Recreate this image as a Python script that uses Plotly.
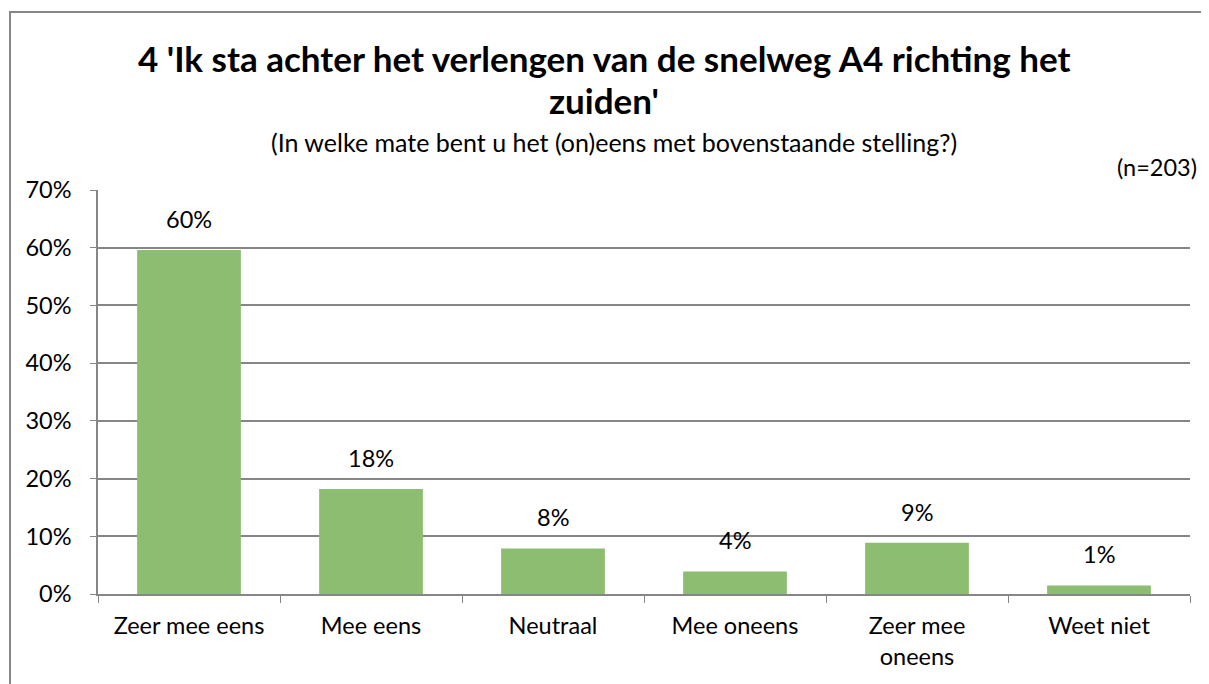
import plotly.graph_objects as go

# data (n=203)
categories = ["Zeer mee eens", "Mee eens", "Neutraal", "Mee oneens", "Zeer mee<br>oneens", "Weet niet"]
shares = [0.596, 0.182, 0.079, 0.039, 0.089, 0.0148]
y_ticks = [0, 0.1, 0.2, 0.3, 0.4, 0.5, 0.6, 0.7]

FONT = "Lato"
GREEN = "#8dbd70"
GRID = "#868686"
TXT = 23.5

fig = go.Figure()

fig.add_trace(
    go.Bar(
        x=categories,
        y=shares,
        marker=dict(color=GREEN, line=dict(width=0)),
        hoverinfo="skip",
    )
)

# value labels sit a bit higher above the bars than plotly's "outside" text
for cat, val in zip(categories, shares):
    fig.add_annotation(
        x=cat, y=val, text=f"{val:.0%}", showarrow=False,
        xanchor="center", yanchor="bottom", yshift=15,
        font=dict(family=FONT, size=TXT, color="#000000"),
    )

# page body has an 8px margin, so the figure is shifted by 8px
fig.update_layout(
    width=1201,
    height=676,
    plot_bgcolor="#ffffff",
    paper_bgcolor="#ffffff",
    font=dict(family=FONT, color="#000000"),
    margin=dict(l=90, r=19, t=182, b=90),
    showlegend=False,
    bargap=0.43,
    xaxis=dict(
        type="category",
        showline=True,
        linecolor=GRID,
        linewidth=1.5,
        ticks="outside",
        tickson="boundaries",
        ticklen=7,
        tickcolor=GRID,
        ticklabelstandoff=10,
        tickfont=dict(family=FONT, size=TXT, color="#000000"),
        showgrid=False,
    ),
    yaxis=dict(
        range=[0, 0.7],
        tickvals=y_ticks,
        tickformat=".0%",
        showline=True,
        linecolor=GRID,
        linewidth=1.5,
        ticks="outside",
        ticklen=6,
        tickcolor=GRID,
        ticklabelstandoff=14,
        showgrid=True,
        gridcolor=GRID,
        gridwidth=1.5,
        zeroline=False,
        tickfont=dict(family=FONT, size=TXT, color="#000000"),
    ),
)

# frame around the chart (only left and top visible in the crop)
fig.add_shape(
    type="rect", xref="paper", yref="paper",
    x0=-88 / 1092, x1=1.1, y0=-0.3, y1=1 + 178 / 404,
    line=dict(color=GRID, width=2), layer="below",
)

title_lines = ["4 'Ik sta achter het verlengen van de snelweg A4 richting het", "zuiden'"]
for i, line in enumerate(title_lines):
    fig.add_annotation(
        text=f"<b>{line}</b>", xref="paper", yref="paper",
        x=(604 - 98) / 1092, y=1 + (190 - (58 + 42 * i)) / 404,
        xanchor="center", yanchor="middle", showarrow=False,
        font=dict(family=FONT, size=35, color="#000000"),
    )

fig.add_annotation(
    text="(In welke mate bent u het (on)eens met bovenstaande stelling?)",
    xref="paper", yref="paper",
    x=(614 - 98) / 1092, y=1 + (190 - 142) / 404,
    xanchor="center", yanchor="middle", showarrow=False,
    font=dict(family=FONT, size=25, color="#000000"),
)

fig.add_annotation(
    text="(n=203)", xref="paper", yref="paper",
    x=(1199 - 98) / 1092, y=1 + (190 - 167) / 404,
    xanchor="right", yanchor="middle", showarrow=False,
    font=dict(family=FONT, size=TXT, color="#000000"),
)

fig.write_html("out.html")
